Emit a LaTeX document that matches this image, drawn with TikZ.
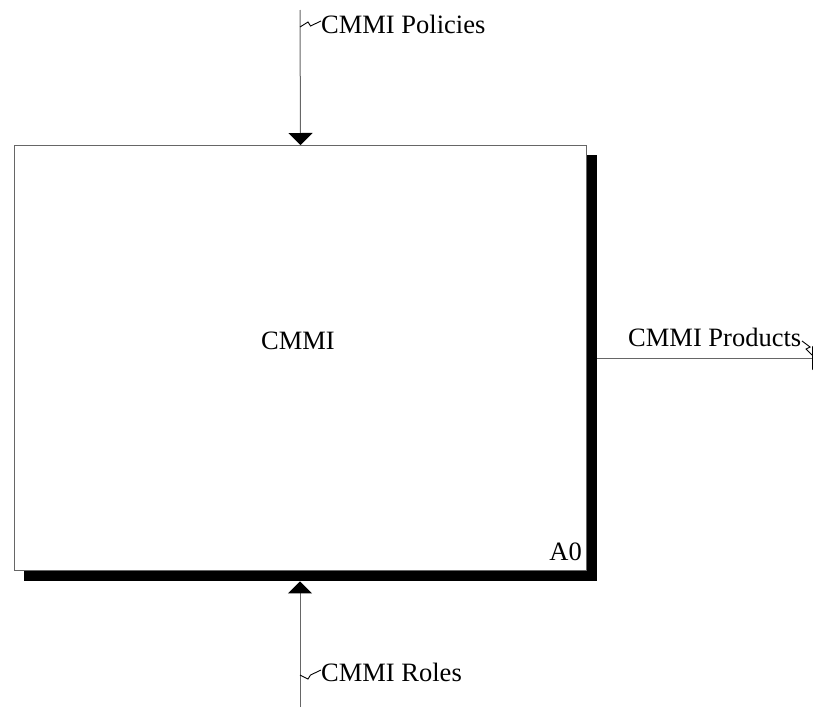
\documentclass[tikz,border=0pt]{standalone}
\usepackage{fontspec}
\setmainfont{Liberation Serif}
\usetikzlibrary{arrows.meta}
\begin{document}
\begin{tikzpicture}[x=1pt,y=-1pt,
  lbl/.style={font=\fontsize{26.5}{30}\selectfont, inner sep=0pt},
  flow/.style={draw=black!60, line width=1pt, -{Triangle[width=24pt,length=12pt,color=black]}},
  squig/.style={draw=black, line width=0.9pt},
  shadow/.style={fill=black, draw=none, inner sep=0pt, anchor=north west}]
\useasboundingbox (0,0) rectangle (813,707);
\begin{scope}
\clip (0,0) rectangle (813,707);
% shadow
\node[shadow, minimum width=573pt, minimum height=11pt] (shb) at (24,570) {};
\node[shadow, minimum width=11pt, minimum height=426pt] (shr) at (586,155) {};
% box
\node[draw=black!60, fill=white, line width=1pt, minimum width=572pt, minimum height=425pt,
      anchor=north west, inner sep=0pt] (box) at (14,145) {};
% labels
\node[lbl] (main) at (298,341) {CMMI};
\node[lbl, anchor=base east] (a0) at (582,560) {A0};
\node[lbl, anchor=base west] (pol) at (321,33) {CMMI Policies};
\node[lbl, anchor=base west] (rol) at (321,681) {CMMI Roles};
\node[lbl, anchor=base west] (prod) at (628,346) {CMMI Products};
% arrow ends
\coordinate (ptop) at (300,10);
\coordinate (pbot) at (300,707);
\coordinate (pend) at (824,358);
\draw[flow] (ptop) -- (box.north);
\draw[flow] (pbot) -- (shb.south -| pbot);
\draw[flow] (shr.east |- pend) -- (pend);
% squiggles
\draw[squig] (300,27) -- (308,22) -- (310.5,26) -- (321,21);
\draw[squig] (300,675) -- (308,679) -- (310.5,675) -- (321,670);
\draw[squig] (802,341) -- (810,347) -- (806,349) -- (812,355);
\end{scope}
\end{tikzpicture}
\end{document}
